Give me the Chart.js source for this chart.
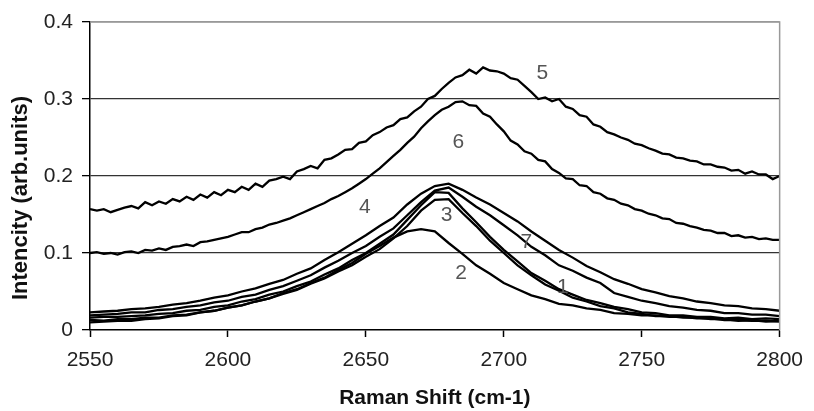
<!DOCTYPE html>
<html>
<head>
<meta charset="utf-8">
<script src="https://cdn.jsdelivr.net/npm/chart.js@4/dist/chart.umd.min.js"></script>
<style>
html,body{margin:0;padding:0;background:#fff;}
#wrap{width:814px;height:411px;position:relative;}
</style>
</head>
<body>
<div id="wrap"><canvas id="c" width="814" height="411"></canvas></div>
<script>
// Raman shift grids (cm-1)
const shiftFine = [2550,2552.5,2555,2557.5,2560,2562.5,2565,2567.5,2570,2572.5,2575,2577.5,2580,2582.5,2585,2587.5,2590,2592.5,2595,2597.5,2600,2602.5,2605,2607.5,2610,2612.5,2615,2617.5,2620,2622.5,2625,2627.5,2630,2632.5,2635,2637.5,2640,2642.5,2645,2647.5,2650,2652.5,2655,2657.5,2660,2662.5,2665,2667.5,2670,2672.5,2675,2677.5,2680,2682.5,2685,2687.5,2690,2692.5,2695,2697.5,2700,2702.5,2705,2707.5,2710,2712.5,2715,2717.5,2720,2722.5,2725,2727.5,2730,2732.5,2735,2737.5,2740,2742.5,2745,2747.5,2750,2752.5,2755,2757.5,2760,2762.5,2765,2767.5,2770,2772.5,2775,2777.5,2780,2782.5,2785,2787.5,2790,2792.5,2795,2797.5,2800];
const shiftCoarse = [2550,2555,2560,2565,2570,2575,2580,2585,2590,2595,2600,2605,2610,2615,2620,2625,2630,2635,2640,2645,2650,2655,2660,2665,2670,2675,2680,2685,2690,2695,2700,2705,2710,2715,2720,2725,2730,2735,2740,2745,2750,2755,2760,2765,2770,2775,2780,2785,2790,2795,2800];

// Intensity series (arb. units)
const spectrum5 = [.157,.155,.157,.153,.156,.159,.161,.158,.166,.162,.167,.164,.170,.167,.173,.169,.176,.172,.179,.175,.182,.179,.186,.182,.190,.186,.194,.196,.199,.196,.206,.209,.213,.210,.221,.223,.228,.234,.235,.243,.245,.253,.257,.263,.266,.274,.276,.284,.290,.300,.304,.313,.321,.328,.331,.338,.333,.341,.337,.336,.333,.327,.325,.317,.309,.300,.302,.297,.300,.290,.287,.279,.277,.267,.264,.257,.254,.250,.247,.242,.240,.236,.233,.229,.228,.224,.223,.220,.219,.215,.215,.212,.211,.207,.208,.203,.206,.202,.202,.196,.200];
const spectrum6 = [.100,.101,.099,.100,.098,.101,.102,.100,.104,.103,.106,.104,.108,.109,.111,.109,.114,.115,.117,.119,.121,.124,.127,.127,.131,.133,.137,.139,.142,.145,.149,.153,.157,.161,.165,.170,.174,.179,.184,.190,.196,.203,.210,.218,.226,.234,.243,.251,.262,.271,.279,.286,.290,.296,.297,.292,.291,.281,.277,.267,.258,.246,.241,.232,.229,.221,.219,.209,.204,.197,.196,.188,.187,.179,.177,.171,.169,.164,.162,.157,.155,.151,.149,.145,.144,.139,.138,.135,.133,.130,.129,.126,.126,.122,.123,.120,.121,.118,.119,.117,.117];
const spectrum7 = [.023,.024,.025,.027,.028,.030,.033,.035,.038,.042,.045,.050,.054,.060,.065,.073,.080,.091,.101,.112,.123,.135,.146,.163,.177,.187,.190,.182,.172,.163,.152,.141,.128,.116,.104,.094,.083,.075,.066,.060,.053,.049,.044,.041,.037,.035,.032,.031,.028,.027,.025];
const spectrum1 = [.019,.020,.021,.023,.023,.026,.027,.030,.032,.036,.038,.043,.046,.052,.057,.064,.071,.081,.090,.100,.109,.121,.132,.149,.166,.181,.185,.173,.160,.149,.136,.123,.108,.097,.084,.077,.068,.061,.048,.043,.038,.035,.031,.029,.026,.025,.022,.022,.020,.020,.018];
const spectrum4 = [.016,.017,.017,.018,.019,.021,.022,.025,.026,.030,.032,.037,.040,.046,.050,.057,.063,.072,.080,.091,.100,.112,.124,.143,.162,.179,.178,.158,.140,.121,.104,.089,.074,.064,.053,.046,.039,.035,.030,.027,.023,.022,.019,.019,.017,.017,.015,.016,.014,.015,.014];
const spectrum3 = [.013,.012,.014,.014,.016,.016,.019,.020,.023,.025,.029,.032,.037,.041,.047,.052,.060,.067,.076,.084,.095,.105,.119,.135,.155,.169,.170,.152,.135,.116,.100,.084,.071,.059,.051,.042,.037,.031,.028,.023,.021,.018,.018,.016,.016,.014,.014,.012,.013,.011,.012];
const spectrum2 = [.010,.011,.012,.012,.014,.015,.018,.019,.023,.025,.029,.032,.037,.041,.048,.053,.061,.068,.078,.087,.099,.109,.120,.128,.131,.128,.113,.099,.084,.073,.061,.053,.045,.040,.034,.032,.028,.026,.022,.021,.019,.019,.017,.017,.015,.015,.013,.013,.012,.012,.011];

// Axis ticks
const xTicks = [2550,2600,2650,2700,2750,2800];
const yTicks = [0,0.1,0.2,0.3,0.4];

// Curve labels (text, shift, intensity)
const curveLabelText = ["5","6","4","3","7","2","1"];
const curveLabelShift = [2714,2683.5,2649.6,2679.3,2708.2,2684.5,2721.4];
const curveLabelIntensity = [0.334,0.244,0.160,0.149,0.114,0.074,0.056];

function pts(xs, ys){ return xs.map((x,i)=>({x:x,y:ys[i]})); }
function ds(label, xs, ys){
  return {label:label, data:pts(xs,ys), borderColor:'#000', borderWidth:2.3, pointRadius:0, tension:0, fill:false};
}

const FONT = "'Liberation Sans', Arial, sans-serif";

const labelPlugin = {
  id:'curveLabels',
  afterDatasetsDraw(chart){
    const ctx = chart.ctx, xs = chart.scales.x, ys = chart.scales.y;
    ctx.save();
    ctx.font = "21px " + FONT;
    ctx.fillStyle = '#555';
    ctx.textAlign = 'center';
    ctx.textBaseline = 'middle';
    curveLabelText.forEach((t,i)=>{
      ctx.fillText(t, xs.getPixelForValue(curveLabelShift[i]), ys.getPixelForValue(curveLabelIntensity[i]));
    });
    ctx.restore();
  }
};

const framePlugin = {
  id:'frame',
  afterDraw(chart){
    const a = chart.chartArea, ctx = chart.ctx;
    ctx.save();
    ctx.strokeStyle = '#999';
    ctx.lineWidth = 1.5;
    ctx.beginPath();
    ctx.moveTo(a.left, a.top); ctx.lineTo(a.right, a.top); ctx.lineTo(a.right, a.bottom);
    ctx.stroke();
    // y-axis title
    ctx.translate(21, (a.top + a.bottom) / 2 + 22);
    ctx.rotate(-Math.PI / 2);
    ctx.font = "bold 22px " + FONT;
    ctx.fillStyle = '#111';
    ctx.textAlign = 'center';
    ctx.textBaseline = 'middle';
    ctx.fillText('Intencity (arb.units)', 0, 0);
    ctx.restore();
  }
};

new Chart(document.getElementById('c'), {
  type:'line',
  data:{
    datasets:[
      ds('5', shiftFine, spectrum5),
      ds('6', shiftFine, spectrum6),
      ds('7', shiftCoarse, spectrum7),
      ds('1', shiftCoarse, spectrum1),
      ds('4', shiftCoarse, spectrum4),
      ds('3', shiftCoarse, spectrum3),
      ds('2', shiftCoarse, spectrum2)
    ]
  },
  options:{
    responsive:false,
    animation:false,
    layout:{padding:{top:22,right:24,left:0,bottom:0}},
    plugins:{legend:{display:false}, tooltip:{enabled:false}},
    scales:{
      x:{
        type:'linear', min:xTicks[0], max:xTicks[xTicks.length-1],
        afterBuildTicks(s){ s.ticks = xTicks.map(v=>({value:v})); },
        afterFit(s){ s.height = 81; },
        ticks:{font:{family:FONT,size:21}, color:'#222', padding:11, maxRotation:0, autoSkip:false,
          callback:(v)=>String(v)},
        grid:{drawOnChartArea:false, tickLength:7, tickColor:'#000', tickWidth:1.5, color:'#000'},
        border:{color:'#000', width:1.5},
        title:{display:true, text:'Raman Shift (cm-1)', font:{family:FONT,size:21,weight:'bold'}, color:'#111', padding:{top:0,bottom:0}}
      },
      y:{
        type:'linear', min:yTicks[0], max:yTicks[yTicks.length-1],
        afterBuildTicks(s){ s.ticks = yTicks.map(v=>({value:v})); },
        afterFit(s){ s.width = 90; },
        ticks:{font:{family:FONT,size:21}, color:'#222', padding:9,
          callback:(v)=>String(Math.round(v*10)/10)},
        grid:{tickLength:8, tickColor:'#000', lineWidth:1.3,
          color:(c)=>{ const v=c.tick&&c.tick.value; if(v===0.4) return '#999'; if(v===0) return 'rgba(0,0,0,0)'; return '#333'; }},
        border:{color:'#000', width:1.5},
        title:{display:false}
      }
    }
  },
  plugins:[labelPlugin, framePlugin]
});
</script>
</body>
</html>
